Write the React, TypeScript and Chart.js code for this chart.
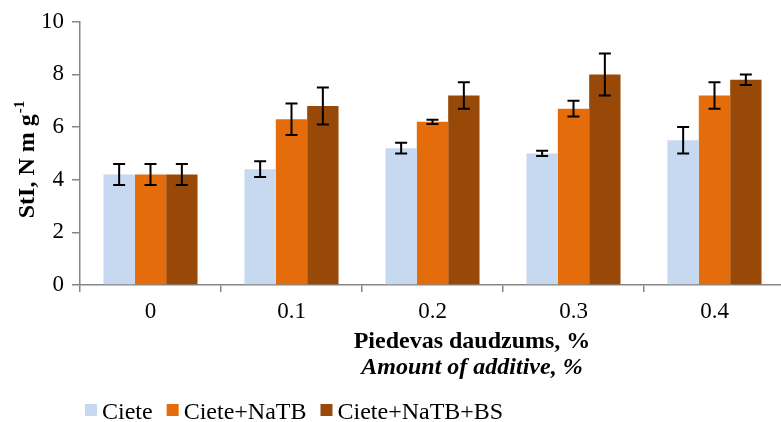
import React, { useEffect, useRef } from "react";
import { Chart, registerables } from "chart.js";

Chart.register(...registerables);

const categories = ["0", "0.1", "0.2", "0.3", "0.4"];
const seriesNames = ["Ciete", "Ciete+NaTB", "Ciete+NaTB+BS"];
const cieteValues = [4.2, 4.4, 5.2, 5.0, 5.5];
const cieteErrors = [0.4, 0.3, 0.2, 0.1, 0.5];
const natbValues = [4.2, 6.3, 6.2, 6.7, 7.2];
const natbErrors = [0.4, 0.6, 0.08, 0.3, 0.5];
const bsValues = [4.2, 6.8, 7.2, 8.0, 7.8];
const bsErrors = [0.4, 0.7, 0.5, 0.8, 0.2];
const seriesColors = ["#C6D9F1", "#E46C0A", "#984807"];
const yMin = 0;
const yMax = 10;
const yStep = 2;
const xTitleLines = ["Piedevas daudzums, %", "Amount of additive, %"];
const yTitleMain = "StI, N m g";
const yTitleSup = "-1";

const FONT = '"Liberation Serif", "Times New Roman", serif';
const AXIS_COLOR = "#868686";

const errorsBySeries = [cieteErrors, natbErrors, bsErrors];

const errorBarPlugin = {
  id: "errorBars",
  afterDatasetsDraw(chart: any) {
    const ctx = chart.ctx;
    const yScale = chart.scales.y;
    ctx.save();
    ctx.strokeStyle = "#000";
    ctx.lineWidth = 2;
    chart.data.datasets.forEach((ds: any, di: number) => {
      const meta = chart.getDatasetMeta(di);
      const errs = errorsBySeries[di];
      meta.data.forEach((bar: any, i: number) => {
        const v = ds.data[i];
        const e = errs[i];
        const yTop = yScale.getPixelForValue(v + e);
        const yBot = yScale.getPixelForValue(v - e);
        const x = bar.x;
        const cap = 6;
        ctx.beginPath();
        ctx.moveTo(x, yTop);
        ctx.lineTo(x, yBot);
        ctx.moveTo(x - cap, yTop);
        ctx.lineTo(x + cap, yTop);
        ctx.moveTo(x - cap, yBot);
        ctx.lineTo(x + cap, yBot);
        ctx.stroke();
      });
    });
    ctx.restore();
  },
};

const annotationsPlugin = {
  id: "annotations",
  afterDraw(chart: any) {
    const ctx = chart.ctx;
    const area = chart.chartArea;
    ctx.save();
    ctx.fillStyle = "#000";

    // X axis title (two lines)
    ctx.textAlign = "center";
    ctx.textBaseline = "middle";
    const xc = 472;
    ctx.font = `bold 24px ${FONT}`;
    ctx.fillText(xTitleLines[0], xc, area.bottom + 57);
    ctx.font = `italic bold 24px ${FONT}`;
    ctx.fillText(xTitleLines[1], xc, area.bottom + 83);

    // Y axis title, rotated, with superscript
    ctx.save();
    ctx.translate(34, 160);
    ctx.rotate(-Math.PI / 2);
    ctx.textAlign = "left";
    ctx.textBaseline = "alphabetic";
    ctx.font = `bold 24px ${FONT}`;
    const wMain = ctx.measureText(yTitleMain).width;
    ctx.font = `bold 15px ${FONT}`;
    const wSup = ctx.measureText(yTitleSup).width;
    const total = wMain + wSup;
    const start = -total / 2;
    ctx.font = `bold 24px ${FONT}`;
    ctx.fillText(yTitleMain, start, 0);
    ctx.font = `bold 15px ${FONT}`;
    ctx.fillText(yTitleSup, start + wMain + 1, -10);
    ctx.restore();

    // Legend
    ctx.font = `24px ${FONT}`;
    ctx.textAlign = "left";
    ctx.textBaseline = "alphabetic";
    let x = 85;
    const boxTop = 404;
    const baseline = 419;
    chart.data.datasets.forEach((ds: any) => {
      ctx.fillStyle = ds.backgroundColor;
      ctx.fillRect(x, boxTop, 12, 12);
      ctx.fillStyle = "#000";
      ctx.fillText(ds.label, x + 17, baseline);
      x += 17 + ctx.measureText(ds.label).width + 14;
    });
    ctx.restore();
  },
};

export default function App() {
  const canvasRef = useRef<HTMLCanvasElement | null>(null);

  useEffect(() => {
    document.body.style.margin = "0";
    document.body.style.overflow = "hidden";
    const canvas = canvasRef.current;
    if (!canvas) return;
    const valuesBySeries = [cieteValues, natbValues, bsValues];
    const chart = new Chart(canvas, {
      type: "bar",
      data: {
        labels: categories,
        datasets: seriesNames.map((name, i) => ({
          label: name,
          data: valuesBySeries[i],
          backgroundColor: seriesColors[i],
          borderWidth: 0,
          barPercentage: 1,
          categoryPercentage: 0.667,
        })),
      },
      options: {
        responsive: false,
        animation: false,
        devicePixelRatio: 1,
        layout: { padding: { left: 0, right: 15, top: 20, bottom: 0 } },
        plugins: {
          legend: { display: false },
          tooltip: { enabled: false },
          title: { display: false },
        },
        scales: {
          x: {
            type: "category",
            offset: true,
            grid: {
              offset: true,
              drawOnChartArea: false,
              drawTicks: true,
              tickLength: 7,
              color: AXIS_COLOR,
              lineWidth: 1.5,
            },
            border: { display: true, color: AXIS_COLOR, width: 1.5 },
            ticks: {
              color: "#000",
              font: { family: FONT, size: 23 },
              padding: 6,
            },
            afterFit(scale: any) {
              scale.height = 137;
            },
          },
          y: {
            min: yMin,
            max: yMax,
            ticks: {
              stepSize: yStep,
              color: "#000",
              font: { family: FONT, size: 23 },
              padding: 8,
            },
            grid: {
              drawOnChartArea: false,
              drawTicks: true,
              tickLength: 8,
              color: AXIS_COLOR,
              lineWidth: 1.5,
            },
            border: { display: true, color: AXIS_COLOR, width: 1.5 },
            afterFit(scale: any) {
              scale.width = 80;
            },
          },
        },
      },
      plugins: [errorBarPlugin, annotationsPlugin],
    });
    return () => chart.destroy();
  }, []);

  return (
    <div style={{ width: 781, height: 422, overflow: "hidden", background: "#fff" }}>
      <canvas ref={canvasRef} width={800} height={422} style={{ display: "block" }} />
    </div>
  );
}
